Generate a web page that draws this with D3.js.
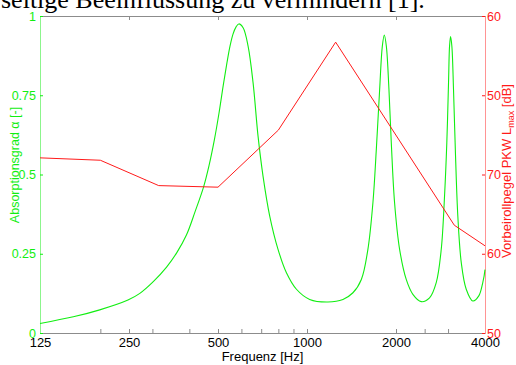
<!DOCTYPE html>
<html>
<head>
<meta charset="utf-8">
<script src="https://cdn.jsdelivr.net/npm/d3@7"></script>
<style>
  html, body { margin: 0; padding: 0; background: #fff; }
  svg { display: block; }
</style>
</head>
<body>
<svg id="chart"></svg>
<script>
// ─── Data ──────────────────────────────────────────────────────────────────
// Absorption coefficient of the resonator
const FREQ_ALPHA = [125, 162, 199, 248, 272, 302, 335, 362, 391, 418, 447, 466, 486, 504, 521, 536, 549, 562, 575,
  588, 608, 632, 657, 683, 710, 748, 798, 852, 921, 1021, 1177, 1323, 1430, 1527, 1607, 1671, 1716,
  1761, 1798, 1826, 1855, 1893, 1928, 1978, 2057, 2166, 2281, 2435, 2597, 2736, 2845, 2919, 2971,
  3011, 3035, 3059, 3090, 3130, 3180, 3237, 3325, 3456, 3638, 3811, 3931, 4000];
const ALPHA = [0.03, 0.051, 0.073, 0.104, 0.125, 0.162, 0.208, 0.252, 0.309, 0.382, 0.461, 0.527, 0.609, 0.694, 0.782, 0.852, 0.905, 0.943, 0.965,
  0.975, 0.963, 0.905, 0.79, 0.621, 0.495, 0.369, 0.264, 0.19, 0.138, 0.106, 0.098, 0.106, 0.127, 0.169, 0.264, 0.411, 0.58,
  0.769, 0.905, 0.94, 0.905, 0.769, 0.6, 0.411, 0.264, 0.169, 0.122, 0.099, 0.111, 0.159, 0.264, 0.432, 0.6,
  0.79, 0.905, 0.935, 0.905, 0.769, 0.558, 0.369, 0.222, 0.138, 0.101, 0.117, 0.159, 0.2];

// Pass-by level, third-octave bands
const FREQ_LEVEL = [125, 200, 315, 500, 800, 1250, 3150, 4000];
const LEVEL_DB   = [72.1, 71.8, 68.6, 68.4, 75.6, 86.7, 63.6, 61.0];

// Ticks
const X_TICKS = [125, 250, 500, 1000, 2000, 4000];
const X_MINOR = [200, 300, 400, 600, 700, 800, 900, 2500, 3000];
const ALPHA_TICKS = [0, 0.25, 0.5, 0.75, 1];
const ALPHA_TICK_LABELS = ["0", "0.25", "0.5", "0.75", "1"];
const DB_TICKS = [50, 60, 70, 80, 90];
const DB_TICK_LABELS = ["50", "60", "70", "50", "60"];   // as printed in the original

// ─── Layout ────────────────────────────────────────────────────────────────
const W = 516, H = 365;
const M = { top: 16, right: 31, bottom: 32, left: 40 };
const GREEN = "#11ee11";
const GREEN_LIGHT = "#8cf58c";
const RED = "#ff1a1a";
const RED_LIGHT = "#ff9494";
const GREY = "#8c8c8c";
const SANS = "Arial, 'Liberation Sans', sans-serif";

const svg = d3.select("#chart").attr("width", W).attr("height", H)
  .attr("viewBox", `0 0 ${W} ${H}`);

const x = d3.scaleLog().base(2).domain([125, 4000]).range([M.left, W - M.right]);
const yA = d3.scaleLinear().domain([0, 1]).range([H - M.bottom, M.top]);
const yL = d3.scaleLinear().domain([50, 90]).range([H - M.bottom, M.top]);

// ── Text fragment from the surrounding document ──
svg.append("text")
  .attr("x", 1).attr("y", 7.5)
  .attr("font-family", "'Liberation Serif', 'Times New Roman', serif")
  .attr("font-size", "26px").attr("fill", "#000")
  .text("seitige Beeinflussung zu vermindern [1].");

// ── Axes ──
function styleAxis(g, col, tickCol) {
  g.select(".domain").attr("stroke", col);
  g.selectAll(".tick line").attr("stroke", tickCol || col);
  g.selectAll(".tick text").attr("font-family", SANS);
}

const xMinor = svg.append("g")
  .attr("transform", `translate(0,${H - M.bottom})`)
  .call(d3.axisBottom(x).tickValues(X_MINOR).tickSizeInner(-4).tickSizeOuter(0).tickFormat(""));
styleAxis(xMinor, GREY);

const xAxis = svg.append("g")
  .attr("transform", `translate(0,${H - M.bottom})`)
  .call(d3.axisBottom(x).tickValues(X_TICKS).tickSizeInner(-4).tickSizeOuter(0).tickPadding(5)
    .tickFormat(d3.format("d")));
styleAxis(xAxis, GREY);
xAxis.selectAll(".tick text").attr("font-size", "13px").attr("fill", "#000");

const xTop = svg.append("g")
  .attr("transform", `translate(0,${M.top})`)
  .call(d3.axisTop(x).tickValues(X_TICKS).tickSizeInner(-4).tickSizeOuter(0).tickFormat(""));
styleAxis(xTop, GREY);

const yAxisL = svg.append("g")
  .attr("transform", `translate(${M.left},0)`)
  .call(d3.axisLeft(yA).tickValues(ALPHA_TICKS).tickSizeInner(-3).tickSizeOuter(0).tickPadding(4)
    .tickFormat((d, i) => ALPHA_TICK_LABELS[i]));
styleAxis(yAxisL, GREEN_LIGHT, GREEN);
yAxisL.selectAll(".tick text").attr("font-size", "12.5px").attr("fill", GREEN);

const yAxisR = svg.append("g")
  .attr("transform", `translate(${W - M.right},0)`)
  .call(d3.axisRight(yL).tickValues(DB_TICKS).tickSizeInner(-3).tickSizeOuter(0).tickPadding(2)
    .tickFormat((d, i) => DB_TICK_LABELS[i]));
styleAxis(yAxisR, RED_LIGHT, RED);
yAxisR.selectAll(".tick text").attr("font-size", "12.5px").attr("fill", RED);

// ── Axis titles ──
svg.append("text")
  .attr("x", (M.left + W - M.right) / 2).attr("y", 361)
  .attr("text-anchor", "middle").attr("font-family", SANS).attr("font-size", "13px")
  .attr("fill", "#000").text("Frequenz [Hz]");

svg.append("text")
  .attr("transform", "translate(19,165) rotate(-90)")
  .attr("text-anchor", "middle").attr("font-family", SANS).attr("font-size", "12.5px")
  .attr("fill", GREEN).text("Absorptionsgrad α [-]");

const rt = svg.append("text")
  .attr("transform", "translate(511,171) rotate(-90)")
  .attr("text-anchor", "middle").attr("font-family", SANS).attr("font-size", "13px")
  .attr("fill", RED);
rt.append("tspan").text("Vorbeirollpegel PKW L");
rt.append("tspan").attr("font-size", "9px").attr("dy", 3).text("max");
rt.append("tspan").attr("dy", -3).text(" [dB]");

// ── Lines ──
const alphaPts = FREQ_ALPHA.map((f, i) => [f, ALPHA[i]]);
const levelPts = FREQ_LEVEL.map((f, i) => [f, LEVEL_DB[i]]);

svg.append("path")
  .datum(alphaPts)
  .attr("fill", "none").attr("stroke", GREEN).attr("stroke-width", 1.1)
  .attr("d", d3.line().x(d => x(d[0])).y(d => yA(d[1])).curve(d3.curveCatmullRom.alpha(0.5)));

svg.append("path")
  .datum(levelPts)
  .attr("fill", "none").attr("stroke", RED).attr("stroke-width", 1)
  .attr("d", d3.line().x(d => x(d[0])).y(d => yL(d[1])));
</script>
</body>
</html>
